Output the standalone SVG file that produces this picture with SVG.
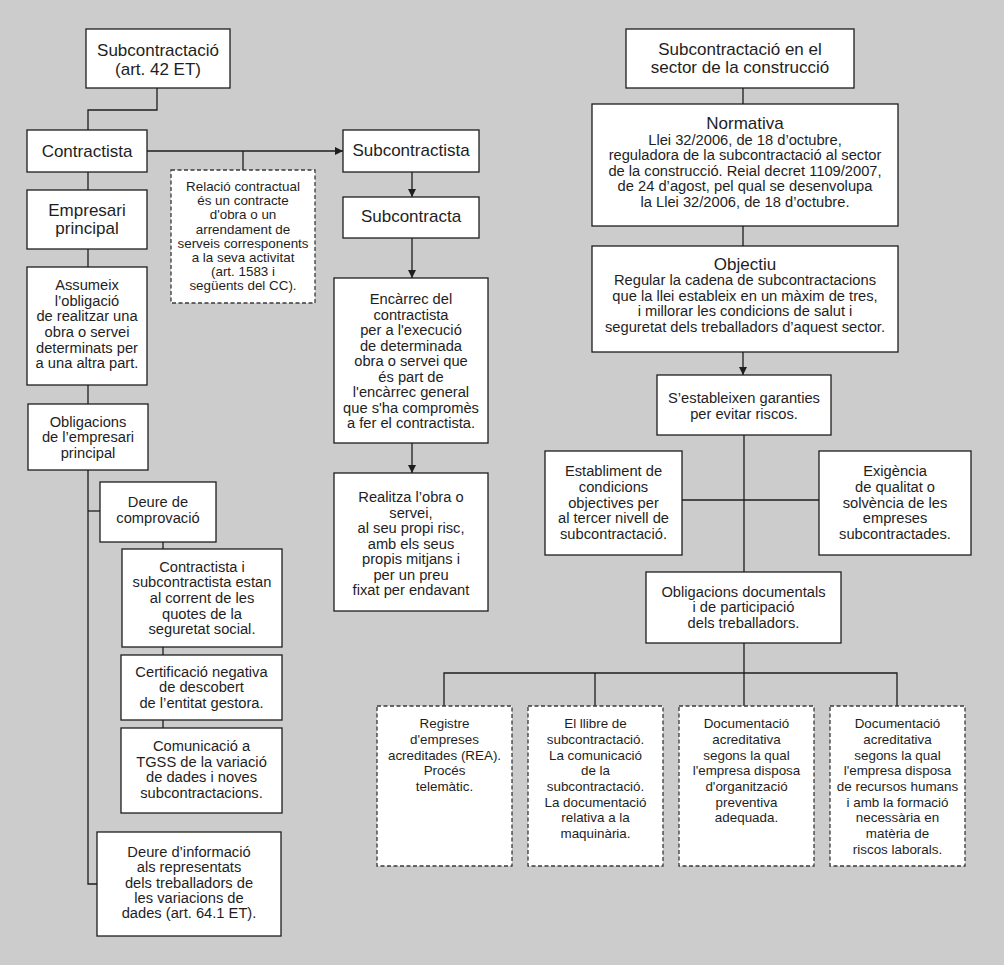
<svg xmlns="http://www.w3.org/2000/svg" width="1004" height="965" viewBox="0 0 1004 965">
<style>
.bx{fill:#fff;stroke:#1e1e1e;stroke-width:1.3}
.ds{fill:#fff;stroke:#3a3a3a;stroke-width:1.3;stroke-dasharray:4 2.5}
.c{fill:none;stroke:#1e1e1e;stroke-width:1.3}
text{font-family:"Liberation Sans",Arial,sans-serif;fill:#1e1e1e;text-anchor:middle}
.h{font-size:17px}
.t{font-size:14.7px}
.s{font-size:13.4px}
</style>
<defs>
<marker id="ar" markerWidth="8" markerHeight="8" refX="8" refY="4" orient="auto" markerUnits="userSpaceOnUse">
<path d="M0,0 L8,4 L0,8 z" fill="#1e1e1e"/>
</marker>
</defs>
<rect width="1004" height="965" fill="#cccccc"/>
<g id="connectors">
<path class="c" d="M157,88 V110 H88 V130"/>
<path class="c" d="M147,151 H343" marker-end="url(#ar)"/>
<path class="c" d="M243,151 V170"/>
<path class="c" d="M88,172 V190"/>
<path class="c" d="M88,249 V267"/>
<path class="c" d="M88,385 V404"/>
<path class="c" d="M88,470 V884 H97"/>
<path class="c" d="M88,511 H100"/>
<path class="c" d="M163,542 V549"/>
<path class="c" d="M163,647 V655"/>
<path class="c" d="M163,720 V728"/>
<path class="c" d="M412,172 V197" marker-end="url(#ar)"/>
<path class="c" d="M412,238 V278" marker-end="url(#ar)"/>
<path class="c" d="M412,443 V473" marker-end="url(#ar)"/>
<path class="c" d="M743,88 V104"/>
<path class="c" d="M743,226 V246"/>
<path class="c" d="M743,352 V375" marker-end="url(#ar)"/>
<path class="c" d="M744,435 V572"/>
<path class="c" d="M682,500 H819"/>
<path class="c" d="M744,643 V706"/>
<path class="c" d="M444,706 V673 H897 V706"/>
<path class="c" d="M595,673 V706"/>
</g>
<g id="n-subcontractacio">
<rect class="bx" x="86" y="29" width="144" height="59"/>
<text class="h" x="158" y="56">Subcontractació</text>
<text class="h" x="158" y="75">(art. 42 ET)</text>
</g>
<g id="n-contractista">
<rect class="bx" x="27" y="130" width="120" height="42"/>
<text class="h" x="87" y="157">Contractista</text>
</g>
<g id="n-relacio">
<rect class="ds" x="171" y="170" width="144" height="133"/>
<text class="s" x="243" y="191">Relació contractual</text>
<text class="s" x="243" y="205.2">és un contracte</text>
<text class="s" x="243" y="219.4">d'obra o un</text>
<text class="s" x="243" y="233.6">arrendament de</text>
<text class="s" x="243" y="247.8">serveis corresponents</text>
<text class="s" x="243" y="262">a la seva activitat</text>
<text class="s" x="243" y="276.2">(art. 1583 i</text>
<text class="s" x="243" y="290.4">següents del CC).</text>
</g>
<g id="n-empresari">
<rect class="bx" x="27" y="190" width="120" height="59"/>
<text class="h" x="87" y="216">Empresari</text>
<text class="h" x="87" y="234">principal</text>
</g>
<g id="n-assumeix">
<rect class="bx" x="27" y="267" width="120" height="118"/>
<text class="t" x="87" y="290">Assumeix</text>
<text class="t" x="87" y="305.7">l’obligació</text>
<text class="t" x="87" y="321.3">de realitzar una</text>
<text class="t" x="87" y="337">obra o servei</text>
<text class="t" x="87" y="352.7">determinats per</text>
<text class="t" x="87" y="368.3">a una altra part.</text>
</g>
<g id="n-obligacions">
<rect class="bx" x="28" y="404" width="120" height="66"/>
<text class="t" x="88" y="426.7">Obligacions</text>
<text class="t" x="88" y="442.3">de l’empresari</text>
<text class="t" x="88" y="457.7">principal</text>
</g>
<g id="n-deure-comprovacio">
<rect class="bx" x="100" y="482" width="116" height="60"/>
<text class="t" x="158" y="507.3">Deure de</text>
<text class="t" x="158" y="523.3">comprovació</text>
</g>
<g id="n-corrent">
<rect class="bx" x="122" y="549" width="160" height="98"/>
<text class="t" x="202" y="571.7">Contractista i</text>
<text class="t" x="202" y="587.4">subcontractista estan</text>
<text class="t" x="202" y="603">al corrent de les</text>
<text class="t" x="202" y="618.7">quotes de la</text>
<text class="t" x="202" y="634.3">seguretat social.</text>
</g>
<g id="n-certificacio">
<rect class="bx" x="121" y="655" width="161" height="65"/>
<text class="t" x="201.5" y="676.7">Certificació negativa</text>
<text class="t" x="201.5" y="692.3">de descobert</text>
<text class="t" x="201.5" y="707.7">de l’entitat gestora.</text>
</g>
<g id="n-comunicacio">
<rect class="bx" x="121" y="728" width="161" height="85"/>
<text class="t" x="201.5" y="751">Comunicació a</text>
<text class="t" x="201.5" y="766.7">TGSS de la variació</text>
<text class="t" x="201.5" y="782.3">de dades i noves</text>
<text class="t" x="201.5" y="797.7">subcontractacions.</text>
</g>
<g id="n-deure-informacio">
<rect class="bx" x="97" y="832" width="184" height="104"/>
<text class="t" x="189" y="856.7">Deure d’informació</text>
<text class="t" x="189" y="872.1">als representats</text>
<text class="t" x="189" y="887.5">dels treballadors de</text>
<text class="t" x="189" y="902.9">les variacions de</text>
<text class="t" x="189" y="918.3">dades (art. 64.1 ET).</text>
</g>
<g id="n-subcontractista">
<rect class="bx" x="343" y="130" width="136" height="42"/>
<text class="h" x="411" y="156">Subcontractista</text>
</g>
<g id="n-subcontracta">
<rect class="bx" x="343" y="197" width="136" height="41"/>
<text class="h" x="411" y="222">Subcontracta</text>
</g>
<g id="n-encarrec">
<rect class="bx" x="334" y="278" width="154" height="165"/>
<text class="t" x="411" y="304.3">Encàrrec del</text>
<text class="t" x="411" y="319.8">contractista</text>
<text class="t" x="411" y="335.3">per a l'execució</text>
<text class="t" x="411" y="350.8">de determinada</text>
<text class="t" x="411" y="366.3">obra o servei que</text>
<text class="t" x="411" y="381.8">és part de</text>
<text class="t" x="411" y="397.3">l'encàrrec general</text>
<text class="t" x="411" y="412.8">que s'ha compromès</text>
<text class="t" x="411" y="428.3">a fer el contractista.</text>
</g>
<g id="n-realitza">
<rect class="bx" x="334" y="473" width="154" height="138"/>
<text class="t" x="411" y="502.3">Realitza l’obra o</text>
<text class="t" x="411" y="517.8">servei,</text>
<text class="t" x="411" y="533.2">al seu propi risc,</text>
<text class="t" x="411" y="548.7">amb els seus</text>
<text class="t" x="411" y="564.1">propis mitjans i</text>
<text class="t" x="411" y="579.6">per un preu</text>
<text class="t" x="411" y="595">fixat per endavant</text>
</g>
<g id="n-construccio">
<rect class="bx" x="626" y="29" width="228" height="59"/>
<text class="h" x="740" y="55">Subcontractació en el</text>
<text class="h" x="740" y="73">sector de la construcció</text>
</g>
<g id="n-normativa">
<rect class="bx" x="592" y="104" width="306" height="122"/>
<text class="h" x="745" y="129.3">Normativa</text>
<text class="t" x="745" y="145">Llei 32/2006, de 18 d’octubre,</text>
<text class="t" x="745" y="160.4">reguladora de la subcontractació al sector</text>
<text class="t" x="745" y="175.8">de la construcció. Reial decret 1109/2007,</text>
<text class="t" x="745" y="191.2">de 24 d’agost, pel qual se desenvolupa</text>
<text class="t" x="745" y="206.7">la Llei 32/2006, de 18 d’octubre.</text>
</g>
<g id="n-objectiu">
<rect class="bx" x="592" y="246" width="306" height="106"/>
<text class="h" x="745" y="270">Objectiu</text>
<text class="t" x="745" y="285.3">Regular la cadena de subcontractacions</text>
<text class="t" x="745" y="300.8">que la llei estableix en un màxim de tres,</text>
<text class="t" x="745" y="316.2">i millorar les condicions de salut i</text>
<text class="t" x="745" y="331.7">seguretat dels treballadors d’aquest sector.</text>
</g>
<g id="n-garanties">
<rect class="bx" x="657" y="375" width="174" height="60"/>
<text class="t" x="744" y="403.3">S’estableixen garanties</text>
<text class="t" x="744" y="419">per evitar riscos.</text>
</g>
<g id="n-establiment">
<rect class="bx" x="545" y="451" width="137" height="104"/>
<text class="t" x="613.5" y="476">Establiment de</text>
<text class="t" x="613.5" y="491.7">condicions</text>
<text class="t" x="613.5" y="507.5">objectives per</text>
<text class="t" x="613.5" y="523.2">al tercer nivell de</text>
<text class="t" x="613.5" y="539">subcontractació.</text>
</g>
<g id="n-exigencia">
<rect class="bx" x="819" y="451" width="152" height="104"/>
<text class="t" x="895" y="476">Exigència</text>
<text class="t" x="895" y="491.7">de qualitat o</text>
<text class="t" x="895" y="507.5">solvència de les</text>
<text class="t" x="895" y="523.2">empreses</text>
<text class="t" x="895" y="539">subcontractades.</text>
</g>
<g id="n-obligacions-documentals">
<rect class="bx" x="646" y="572" width="195" height="71"/>
<text class="t" x="743.5" y="596.7">Obligacions documentals</text>
<text class="t" x="743.5" y="612.3">i de participació</text>
<text class="t" x="743.5" y="627.7">dels treballadors.</text>
</g>
<g id="n-registre">
<rect class="ds" x="377" y="706" width="135" height="160"/>
<text class="s" x="444.5" y="728.3">Registre</text>
<text class="s" x="444.5" y="744">d'empreses</text>
<text class="s" x="444.5" y="759.7">acreditades (REA).</text>
<text class="s" x="444.5" y="775.4">Procés</text>
<text class="s" x="444.5" y="791">telemàtic.</text>
</g>
<g id="n-llibre">
<rect class="ds" x="528" y="706" width="135" height="160"/>
<text class="s" x="595.5" y="728.3">El llibre de</text>
<text class="s" x="595.5" y="744">subcontractació.</text>
<text class="s" x="595.5" y="759.7">La comunicació</text>
<text class="s" x="595.5" y="775.4">de la</text>
<text class="s" x="595.5" y="791">subcontractació.</text>
<text class="s" x="595.5" y="806.7">La documentació</text>
<text class="s" x="595.5" y="822.4">relativa a la</text>
<text class="s" x="595.5" y="838">maquinària.</text>
</g>
<g id="n-organitzacio">
<rect class="ds" x="679" y="706" width="135" height="160"/>
<text class="s" x="746.5" y="728.3">Documentació</text>
<text class="s" x="746.5" y="744">acreditativa</text>
<text class="s" x="746.5" y="759.7">segons la qual</text>
<text class="s" x="746.5" y="775.4">l'empresa disposa</text>
<text class="s" x="746.5" y="791">d'organització</text>
<text class="s" x="746.5" y="806.7">preventiva</text>
<text class="s" x="746.5" y="822.4">adequada.</text>
</g>
<g id="n-recursos">
<rect class="ds" x="830" y="706" width="135" height="160"/>
<text class="s" x="897.5" y="728.3">Documentació</text>
<text class="s" x="897.5" y="744">acreditativa</text>
<text class="s" x="897.5" y="759.7">segons la qual</text>
<text class="s" x="897.5" y="775.4">l'empresa disposa</text>
<text class="s" x="897.5" y="791">de recursos humans</text>
<text class="s" x="897.5" y="806.7">i amb la formació</text>
<text class="s" x="897.5" y="822.4">necessària en</text>
<text class="s" x="897.5" y="838">matèria de</text>
<text class="s" x="897.5" y="853.7">riscos laborals.</text>
</g>
</svg>
